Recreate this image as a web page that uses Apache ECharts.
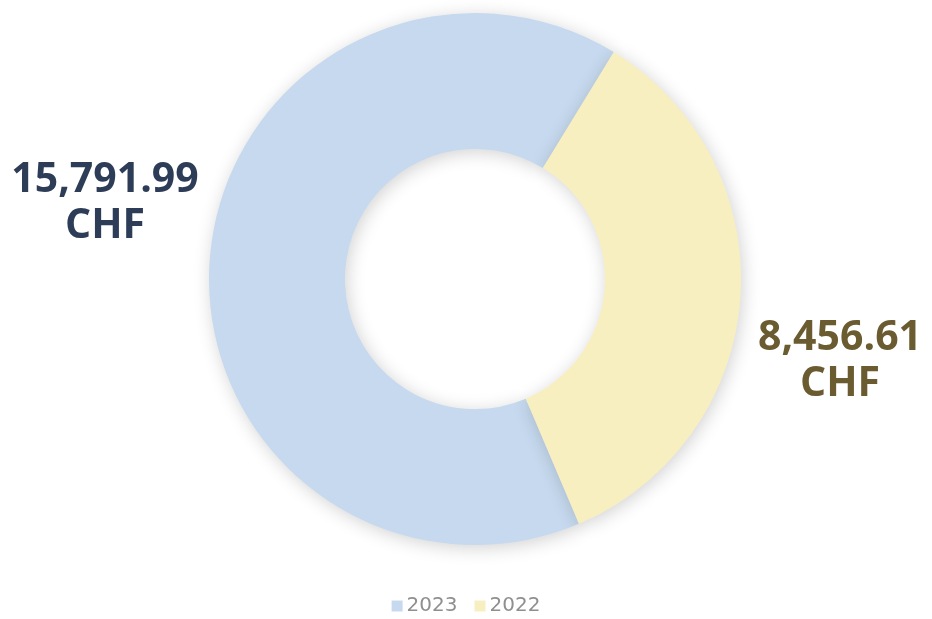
<!DOCTYPE html>
<html>
<head>
<meta charset="utf-8">
<script src="https://cdn.jsdelivr.net/npm/echarts@6/dist/echarts.min.js"></script>
<style>html,body{margin:0;padding:0;background:#fff}#c{width:932px;height:619px}</style>
</head>
<body>
<div id="c"></div>
<script>
const categories = ['2023', '2022'];
const values = [15791.99, 8456.61];
const colors = ['#c6d9ee', '#f8efc0'];
const labelColors = ['#2e3d57', '#6b5b30'];

function fmt(v) {
  return v.toLocaleString('en-US', {minimumFractionDigits: 2, maximumFractionDigits: 2});
}

const chart = echarts.init(document.getElementById('c'));
chart.setOption({
  animation: false,
  legend: {
    top: 596,
    left: 'center',
    icon: 'rect',
    itemWidth: 11,
    itemHeight: 11,
    itemGap: 17,
    padding: 0,
    itemStyle: {shadowBlur: 0},
    textStyle: {color: '#8f8f8f', fontSize: 20, fontFamily: 'DejaVu Sans', padding: [0, 0, 0, -1]},
    data: categories
  },
  series: [{
    type: 'pie',
    center: [475, 279],
    radius: [130, 266],
    startAngle: 293,
    clockwise: true,
    avoidLabelOverlap: false,
    itemStyle: {shadowBlur: 18, shadowColor: 'rgba(0,0,0,0.18)', shadowOffsetX: 2, shadowOffsetY: 3},
    label: {
      show: true,
      position: 'outside',
      formatter: p => fmt(p.value) + '\nCHF',
      fontFamily: 'Open Sans',
      fontWeight: 'bold',
      fontSize: 41,
      lineHeight: 46,
      align: 'center'
    },
    labelLine: {show: false},
    labelLayout: function (params) {
      if (params.dataIndex === 0) return {x: 105, y: 203, align: 'center', verticalAlign: 'middle'};
      return {x: 840, y: 361, align: 'center', verticalAlign: 'middle'};
    },
    data: categories.map((c, i) => ({
      name: c,
      value: values[i],
      itemStyle: {color: colors[i]},
      label: {color: labelColors[i]}
    }))
  }]
});
</script>
</body>
</html>
